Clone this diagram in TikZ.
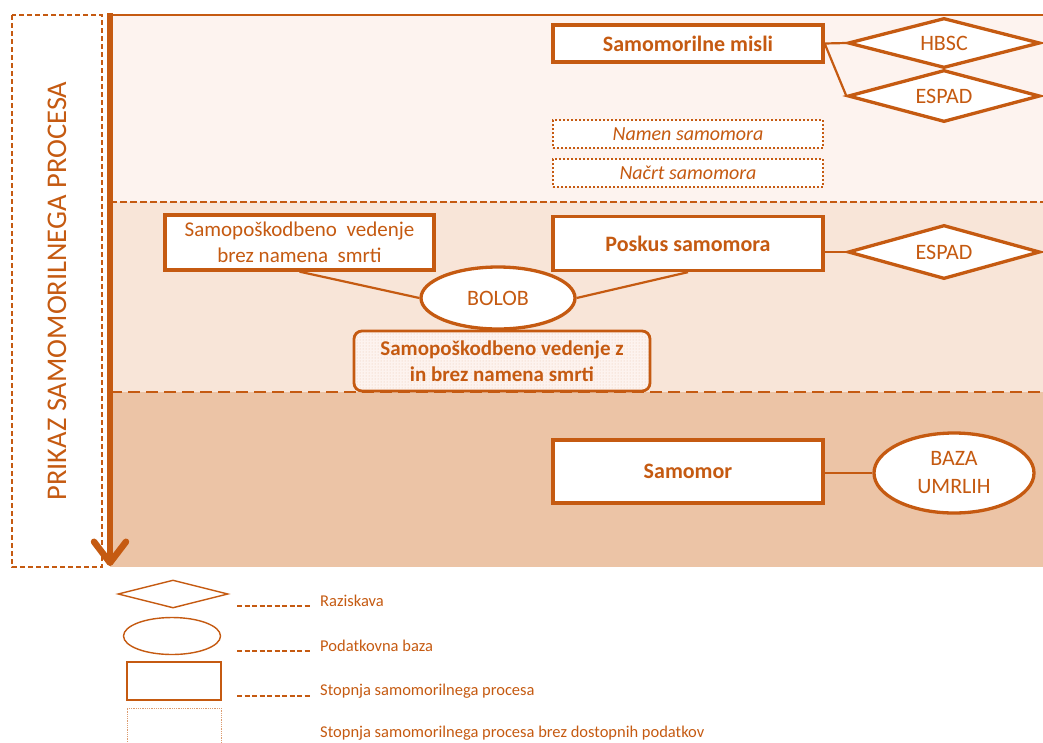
\documentclass[tikz,border=0pt]{standalone}
\usepackage{fontspec}
\setmainfont{Carlito}
\usepackage{xcolor}
\usepackage{tikz}
\usetikzlibrary{shapes,arrows.meta,positioning,patterns}

\definecolor{rust}{HTML}{C55A11}
\definecolor{bandtop}{HTML}{FDF3EF}
\definecolor{bandmid}{HTML}{F8E5D8}
\definecolor{bandlow}{HTML}{ECC4A6}

\begin{document}
\begin{tikzpicture}[
        x=1pt, y=-1pt, text=rust, font=\fontsize{22}{26}\selectfont,
        stage/.style={rectangle, draw=rust, line width=3.3pt, fill=white, minimum width=270pt, align=center, font=\fontsize{22}{26}\selectfont\bfseries},
        nodata/.style={rectangle, draw=rust, line width=2.5pt, dash pattern=on 2pt off 2pt, fill=white, minimum width=270pt, minimum height=28pt, inner sep=0pt, font=\fontsize{20}{24}\selectfont\itshape},
        survey/.style={diamond, draw=rust, line width=3.3pt, fill=white, minimum width=192pt, inner sep=0pt, aspect=4},
        base/.style={ellipse, draw=rust, line width=3.3pt, fill=white, align=center, inner sep=0pt},
        mixed/.style={rectangle, rounded corners=8pt, draw=rust, line width=2.8pt, preaction={fill=bandtop}, pattern=dots, pattern color=rust!35, minimum width=296pt, minimum height=60pt, align=center, font=\fontsize{21}{26}\selectfont\bfseries},
        link/.style={draw=rust, line width=2.2pt},
        keytext/.style={anchor=west, inner sep=0pt, font=\fontsize{16.5}{20}\selectfont},
        keydash/.style={draw=rust, line width=1.6pt, dash pattern=on 5pt off 2.5pt}
    ]
        \useasboundingbox (0,0) rectangle (1043,742);
        % stages of the process
        \fill[bandtop] (110,15) rectangle (1043,202);
        \fill[bandmid] (110,202) rectangle (1043,392);
        \fill[bandlow] (110,392) rectangle (1043,567);
        \draw[rust, line width=2pt] (110,15) -- (1043,15);
        \draw[rust, line width=2pt, dash pattern=on 7pt off 3pt] (110,202) -- (1043,202);
        \draw[rust, line width=2pt, dash pattern=on 12pt off 6pt] (110,392) -- (1043,392);
        \node[draw=rust, line width=1.6pt, dash pattern=on 5pt off 3pt, rotate=90, minimum width=552pt, minimum height=90pt, font=\fontsize{28.5}{30}\selectfont] (frame) at (57,291) {PRIKAZ SAMOMORILNEGA PROCESA};
        \coordinate (flowtop) at (110,13);
        \coordinate (flowend) at (110,566);
        \draw[rust, line width=6.5pt, -{Straight Barb[length=21pt, width=32pt, round]}] (flowtop) -- (flowend);

        \node[stage, minimum height=37pt] (misli) at (688,43.5) {Samomorilne misli};
        \node[survey, minimum height=50pt] (hbsc) at (944,43) {HBSC};
        \node[survey, minimum height=52pt] (espad1) at (944,96) {ESPAD};
        \node[nodata] (namen) at (688,134) {Namen samomora};
        \node[nodata] (nacrt) at (688,173) {Načrt samomora};
        \node[stage, minimum width=269pt, minimum height=55pt, font=\fontsize{21}{26}\selectfont] (selfharm) at (299.5,242.5) {Samopoškodbeno\ \ vedenje\\brez namena\ \ smrti};
        \node[stage, minimum height=54pt] (poskus) at (688,243.5) {Poskus samomora};
        \node[survey, minimum height=54pt] (espad2) at (944,252) {ESPAD};
        \node[base, minimum width=154pt, minimum height=62pt] (bolob) at (498,298) {BOLOB};
        \node[mixed] (zinbrez) at (502,361) {Samopoškodbeno vedenje z\\in brez namena smrti};
        \node[stage, minimum height=63pt] (samomor) at (688,471.5) {Samomor};
        \node[base, minimum width=160pt, minimum height=80pt, font=\fontsize{22}{28}\selectfont] (umrli) at (954,473) {BAZA\\UMRLIH};

        \draw[link] (misli.east) -- (hbsc.west);
        \draw[link] (misli.east) -- (espad1.west);
        \draw[link] (poskus.east |- espad2.west) -- (espad2.west);
        \draw[link] (selfharm.south) -- (bolob.west);
        \draw[link] (bolob.east) -- (poskus.south);
        \draw[link] (samomor.east |- umrli.west) -- (umrli.west);

        % legend
        \node[survey, line width=1.4pt, minimum width=110pt, minimum height=28pt] (keysurvey) at (173,594) {};
        \node[base, line width=1.4pt, minimum width=97pt, minimum height=37pt] (keybase) at (172,636) {};
        \node[stage, line width=1.4pt, minimum width=94pt, minimum height=38pt] (keystage) at (174,681) {};
        \node[draw=rust!60, densely dotted, line width=0.8pt, minimum width=94pt, minimum height=38pt] (keynodata) at (174,727) {};
        \node[keytext] (keyraz) at (320,601) {Raziskava};
        \node[keytext] (keybaza) at (320,646) {Podatkovna baza};
        \node[keytext] (keystop) at (320,691) {Stopnja samomorilnega procesa};
        \node[keytext] (keybrez) at (320,733) {Stopnja samomorilnega procesa brez dostopnih podatkov};
        \foreach \k in {keyraz, keybaza, keystop}
            \draw[keydash] ([shift={(-83pt,-5pt)}]\k.west) -- ([shift={(-10pt,-5pt)}]\k.west);
    \end{tikzpicture}
\end{document}
